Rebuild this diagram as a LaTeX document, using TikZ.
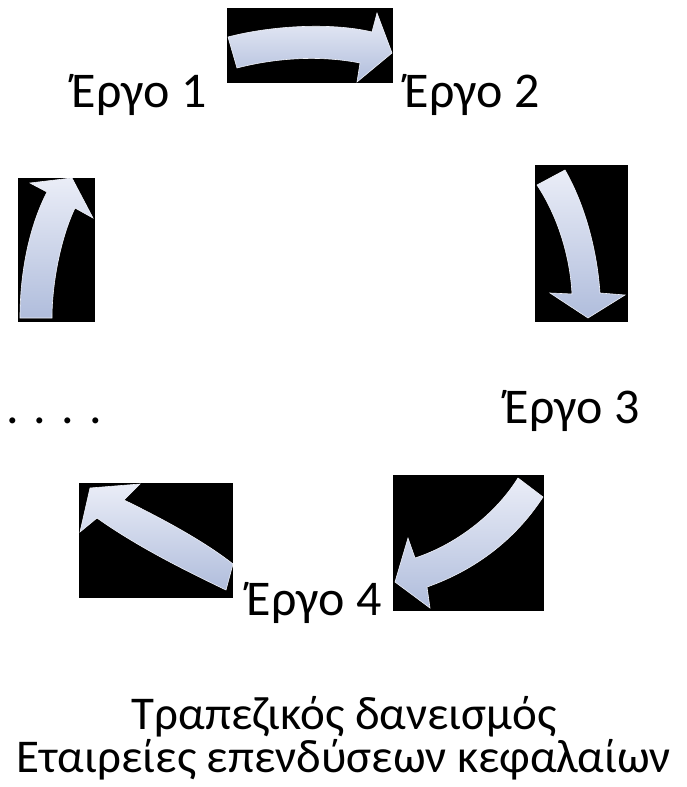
\documentclass[tikz,border=0pt]{standalone}
\usepackage{fontspec}
\setmainfont{Carlito}
\begin{document}
\begin{tikzpicture}[x=1pt,y=-1pt,
  lbl/.style={anchor=base east,inner sep=0pt,font=\fontsize{50}{54}\selectfont},
  ctr/.style={anchor=base,inner sep=0pt,font=\fontsize{47}{50}\selectfont},
  bbox/.style={fill=black},
  arr/.style={top color=arrtop,bottom color=arrbot,draw=arrtop!70!white,line width=0.6pt}]
\definecolor{arrtop}{RGB}{234,237,247}
\definecolor{arrbot}{RGB}{176,189,220}
\useasboundingbox (0,0) rectangle (686,787);
% black frames
\fill[bbox] (227,8) rectangle (393,83);
\fill[bbox] (18,178) rectangle (95,322);
\fill[bbox] (535,165) rectangle (628,322);
\fill[bbox] (79,483) rectangle (233,598);
\fill[bbox] (393,475) rectangle (544,611);
% arrows
\path[arr] (228,37) .. controls (270,26) and (330,22) .. (372,32) -- (377,13) -- (392,53) -- (357,82) -- (360,63)
  .. controls (320,55) and (275,58) .. (237,68) -- cycle;
\path[arr] (20,318) .. controls (20,270) and (30,225) .. (47,192) -- (30,183) -- (72,178) -- (93,218) -- (75,208)
  .. controls (62,235) and (52,280) .. (52,318) -- cycle;
\path[arr] (537,185) -- (565,170) .. controls (585,205) and (597,250) .. (600,293) -- (625,295) -- (588,318) -- (550,293) -- (572,294)
  .. controls (570,255) and (557,215) .. (537,185) -- cycle;
\path[arr] (90,488) -- (140,484) -- (124,500) .. controls (165,520) and (205,542) .. (233,564) -- (226,590)
  .. controls (180,568) and (135,545) .. (97,518) -- (80,532) -- cycle;
\path[arr] (518,478) -- (543,497) .. controls (515,540) and (475,570) .. (427,587) -- (430,608) -- (395,582) -- (408,538) -- (415,558)
  .. controls (455,545) and (495,515) .. (518,478) -- cycle;
% labels
\node[lbl] (e1) at (207,107) {Έργο 1};
\node[lbl] (e2) at (540,107) {Έργο 2};
\node[lbl] (e3) at (640,423) {Έργο 3};
\node[lbl,anchor=base west] (dots) at (6,423) {. . . .};
\node[lbl] (e4) at (382,615) {Έργο 4};
\node[ctr] (t1) at (344,729) {Τραπεζικός δανεισμός};
\node[ctr] (t2) at (344,772) {Εταιρείες επενδύσεων κεφαλαίων};
\end{tikzpicture}
\end{document}
